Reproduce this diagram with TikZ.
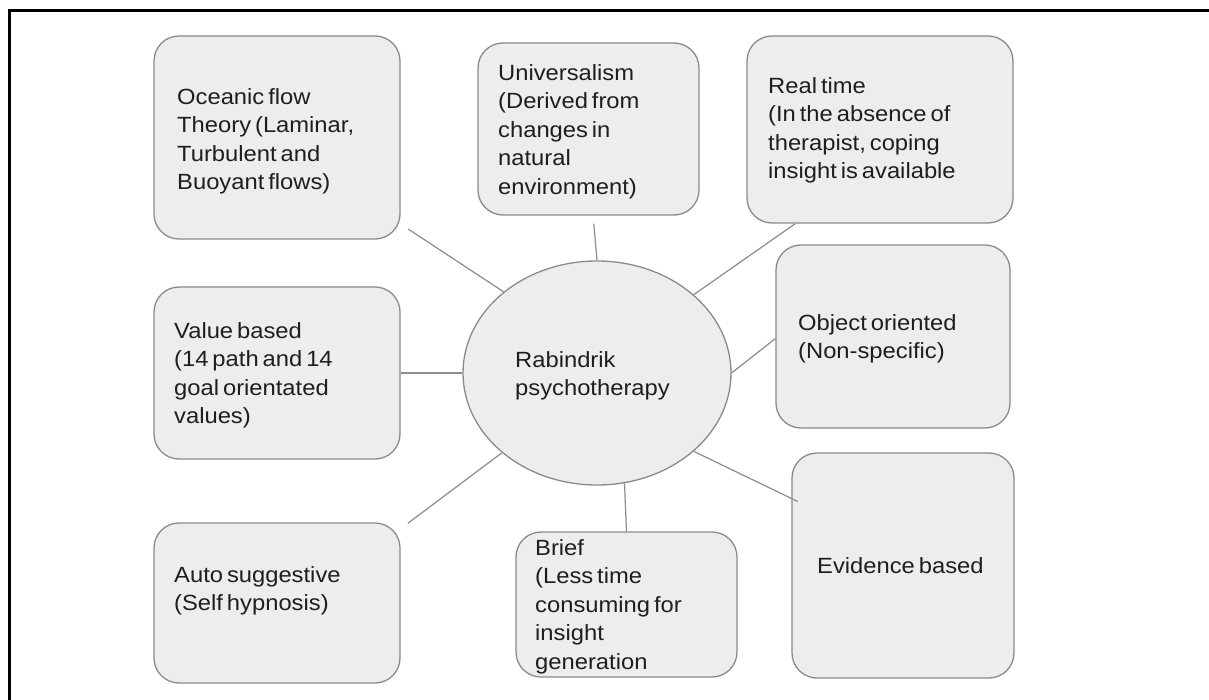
\documentclass[tikz,border=0pt]{standalone}
\usepackage{fontspec}
\usetikzlibrary{shapes.geometric}
\setmainfont{Liberation Sans}[FakeStretch=1.08,WordSpace=0.6]
\definecolor{boxfill}{HTML}{EDEDED}
\definecolor{boxline}{HTML}{8A8A8A}
\definecolor{conn}{HTML}{8C8C8C}
\definecolor{txt}{HTML}{1E1E1E}
\begin{document}
\begin{tikzpicture}[x=1pt,y=-1pt,
  rbox/.style={draw=boxline,fill=boxfill,line width=1.3pt,rounded corners=25pt,inner sep=0pt},
  oval/.style={ellipse,draw=boxline,fill=boxfill,line width=1.3pt,inner sep=0pt},
  lbl/.style={anchor=north west,inner sep=0pt,align=left,text=txt,font=\fontsize{22}{28.5}\selectfont},
  link/.style={draw=conn,line width=1.2pt}]
\useasboundingbox (0,0) rectangle (1209,700);
\clip (0,0) rectangle (1209,700);
\fill[white] (0,0) rectangle (1209,700);
% frame
\draw[line width=3pt,black] (9,720) -- (9,10.5) -- (1230,10.5);
% boxes
\node[rbox,minimum width=246pt,minimum height=203pt] (oc) at (277,137.5) {};
\node[rbox,minimum width=221pt,minimum height=172pt] (un) at (588.5,129) {};
\node[rbox,minimum width=266pt,minimum height=187pt] (rt) at (880,129.5) {};
\node[rbox,minimum width=246pt,minimum height=172pt] (vb) at (277,373) {};
\node[rbox,minimum width=246pt,minimum height=160pt] (au) at (277,603) {};
\node[rbox,minimum width=221pt,minimum height=145pt] (br) at (626.5,604.5) {};
\node[rbox,minimum width=234pt,minimum height=183pt] (oo) at (893,336.5) {};
\node[rbox,minimum width=222pt,minimum height=225pt] (ev) at (903,565.5) {};
\node[oval,minimum width=268pt,minimum height=224pt] (c) at (597,373) {};
% texts
\node[lbl] (toc) at (177,88) {Oceanic flow\\Theory (Laminar,\\Turbulent and\\Buoyant flows)};
\node[lbl] (tun) at (498,64) {Universalism\\(Derived from\\changes in\\natural\\environment)};
\node[lbl] (trt) at (768,77) {Real time\\(In the absence of\\therapist, coping\\insight is available};
\node[lbl] (tvb) at (174,322) {Value based\\(14 path and 14\\goal orientated\\values)};
\node[lbl] (tau) at (174,566) {Auto suggestive\\(Self hypnosis)};
\node[lbl] (tc) at (515,351) {Rabindrik\\psychotherapy};
\node[lbl] (tbr) at (535,539) {Brief\\(Less time\\consuming for\\insight\\generation};
\node[lbl] (too) at (798,314) {Object oriented\\(Non-specific)};
\node[lbl] (tev) at (817,557) {Evidence based};
% connectors
\draw[link,shorten >=9pt] (c.139.5) -- (oc.-35.4);
\draw[link,shorten >=8pt] (c.90) -- (un.-87.7);
\draw[link] (c.39.8) -- (rt.-132.9);
\draw[link] (c.0) -- (oo.181.7);
\draw[link] (c.180) -- (vb.east);
\draw[link,shorten >=9pt] (c.220.8) -- (au.31);
\draw[link] (c.-76.7) -- (br.north);
\draw[link,shorten >=-7pt] (c.-39.8) -- (ev.149);
\end{tikzpicture}
\end{document}
